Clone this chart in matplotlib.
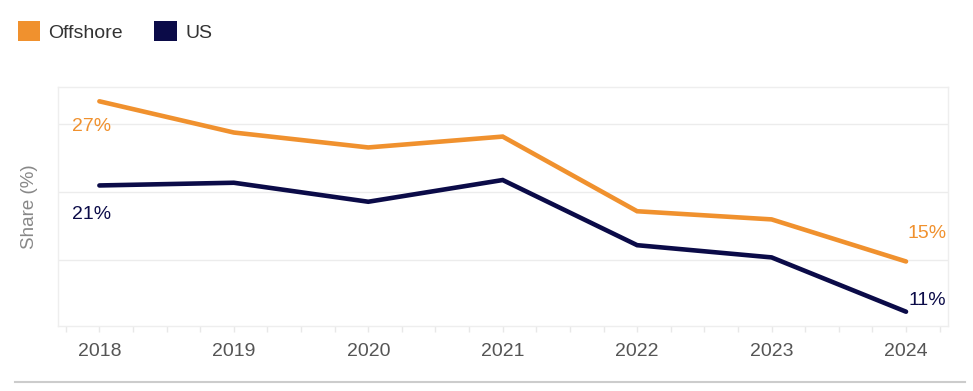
import matplotlib.pyplot as plt
from matplotlib.patches import Patch
from matplotlib.ticker import MultipleLocator

plt.rcParams['font.family'] = ['Liberation Sans', 'DejaVu Sans']

years = [2018, 2019, 2020, 2021, 2022, 2023, 2024]
offshore = [26.7, 24.4, 23.3, 24.1, 18.6, 18.0, 14.9]
us = [20.5, 20.7, 19.3, 20.9, 16.1, 15.2, 11.2]

orange = '#F0912E'
navy = '#0B0B48'

fig = plt.figure(figsize=(9.73, 3.91), dpi=100)
ax = fig.add_axes([0.0593, 0.166, 0.9147, 0.6107])

ax.plot(years, offshore, color=orange, lw=3.3, solid_capstyle='round', solid_joinstyle='miter')
ax.plot(years, us, color=navy, lw=3.3, solid_capstyle='round', solid_joinstyle='miter')

# end labels
ax.annotate('27%', (years[0], offshore[0]), xytext=(-8, -25), textcoords='offset pixels',
            ha='center', va='center', color=orange, fontsize=14)
ax.annotate('21%', (years[0], us[0]), xytext=(-8, -29), textcoords='offset pixels',
            ha='center', va='center', color=navy, fontsize=14)
ax.annotate('15%', (years[-1], offshore[-1]), xytext=(21, 28), textcoords='offset pixels',
            ha='center', va='center', color=orange, fontsize=14)
ax.annotate('11%', (years[-1], us[-1]), xytext=(21, 11), textcoords='offset pixels',
            ha='center', va='center', color=navy, fontsize=14)

ax.set_xlim(2017.69, 2024.31)
ax.set_ylim(10.14, 27.73)
ax.set_xticks(years)
ax.set_xticklabels([str(y) for y in years])
ax.xaxis.set_minor_locator(MultipleLocator(0.25))
ax.set_yticks([15, 20, 25])
ax.set_yticklabels([])
ax.tick_params(axis='y', length=0)
ax.tick_params(axis='x', which='both', length=4, color='#e8e8e8', width=1)
ax.tick_params(axis='x', which='major', pad=8, labelsize=14, labelcolor='#555555')
ax.grid(axis='y', color='#ececec', lw=1)
ax.set_axisbelow(True)
for s in ax.spines.values():
    s.set_color('#eeeeee')
    s.set_linewidth(1)

ax.set_ylabel('Share (%)', fontsize=13.5, color='#888888', labelpad=11)

handles = [Patch(facecolor=orange, edgecolor='none', label='Offshore'),
           Patch(facecolor=navy, edgecolor='none', label='US')]
fig.legend(handles=handles, loc='upper left', bbox_to_anchor=(0.0, 0.99), ncol=2,
           frameon=False, fontsize=14, handlelength=1.15, handleheight=1.15,
           handletextpad=0.45, columnspacing=1.6, labelcolor='#333333')

fig.add_artist(plt.Line2D([0.015, 0.992], [0.023, 0.023], color='#cccccc', lw=1.5,
                          transform=fig.transFigure))

fig.savefig('out.png', dpi=100, facecolor='white')
plt.close()
